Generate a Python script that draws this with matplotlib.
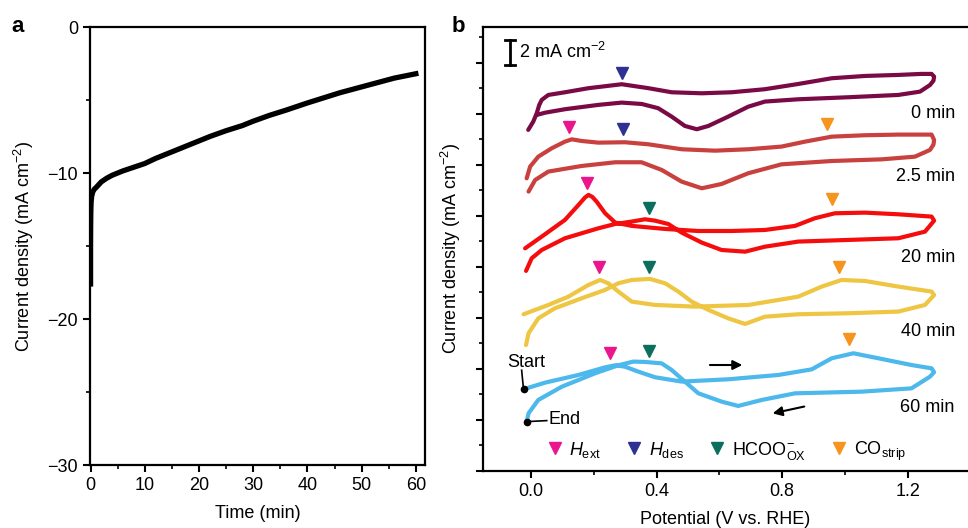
import matplotlib

matplotlib.use("Agg")
import matplotlib.pyplot as plt  # noqa: E402
from matplotlib.lines import Line2D  # noqa: E402
from matplotlib.ticker import MultipleLocator  # noqa: E402

plt.rcParams["font.family"] = ["Liberation Sans", "DejaVu Sans"]
plt.rcParams["mathtext.fontset"] = "custom"
plt.rcParams["mathtext.rm"] = "Liberation Sans"
plt.rcParams["mathtext.it"] = "Liberation Sans:italic"
plt.rcParams["font.size"] = 13

# ---- panel a: chronoamperometry ----
time_min = [0, 0.0, 0.02, 0.05, 0.1, 0.2, 0.4, 0.7, 1.0, 1.5, 2, 3, 4, 5, 6, 8, 10,
            12, 14, 16, 18, 20, 22, 25, 28, 30, 33, 36, 38, 40, 43, 46, 48, 50,
            52, 54, 56, 58, 60]
current_a = [-17.6, -15.0, -13.6, -12.6, -12.0, -11.6, -11.3, -11.1, -11.0, -10.8,
             -10.6, -10.35, -10.15, -10.0, -9.85, -9.6, -9.35, -9.0, -8.7, -8.4,
             -8.1, -7.8, -7.5, -7.1, -6.75, -6.45, -6.05, -5.7, -5.45, -5.2,
             -4.85, -4.5, -4.3, -4.1, -3.9, -3.7, -3.5, -3.35, -3.2]

# ---- panel b: CVs (current offset for display, mA cm-2) ----
cv_labels = ["0 min", "2.5 min", "20 min", "40 min", "60 min"]
cv_colors = ["#7a0a45", "#c8413f", "#f50d0d", "#eec643", "#4db8ec"]

cv0_v = [-0.009, 0.007, 0.018, 0.026, 0.034, 0.055, 0.108, 0.183, 0.289, 0.374,
         0.448, 0.544, 0.639, 0.745, 0.851, 0.958, 1.064, 1.170, 1.244, 1.276,
         1.284, 1.282, 1.271, 1.239, 1.170, 1.011, 0.851, 0.745, 0.692, 0.628,
         0.565, 0.528, 0.490, 0.448, 0.405, 0.353, 0.289, 0.214, 0.108, 0.045,
         0.018]
cv0_i = [26.75, 27.40, 28.05, 28.70, 29.10, 29.49, 29.70, 30.02, 30.33, 30.02,
         29.70, 29.62, 29.70, 29.94, 30.35, 30.80, 30.98, 31.06, 31.14, 31.14,
         30.93, 30.61, 30.27, 29.75, 29.49, 29.31, 29.15, 28.97, 28.57, 27.79,
         27.06, 26.80, 27.06, 27.79, 28.45, 28.78, 28.89, 28.71, 28.37, 28.10,
         27.92]

cv1_v = [-0.014, -0.003, 0.023, 0.066, 0.108, 0.130, 0.161, 0.214, 0.299, 0.374,
         0.480, 0.586, 0.692, 0.798, 0.873, 0.958, 1.064, 1.170, 1.276, 1.284,
         1.282, 1.271, 1.223, 1.117, 0.958, 0.798, 0.692, 0.607, 0.544, 0.480,
         0.416, 0.352, 0.268, 0.161, 0.055, 0.013, -0.008]
cv1_i = [22.95, 23.87, 24.65, 25.31, 25.83, 26.01, 25.88, 25.75, 25.78, 25.62,
         25.23, 25.12, 25.23, 25.44, 25.83, 26.22, 26.33, 26.38, 26.38, 25.96,
         25.60, 25.18, 24.65, 24.44, 24.31, 24.05, 23.35, 22.51, 22.17, 22.69,
         23.61, 24.21, 24.21, 23.92, 23.48, 22.82, 21.91]

cv2_v = [-0.019, 0.034, 0.108, 0.151, 0.172, 0.183, 0.195, 0.209, 0.236, 0.268,
         0.321, 0.427, 0.533, 0.639, 0.745, 0.841, 0.904, 0.968, 1.064, 1.170,
         1.276, 1.284, 1.255, 1.170, 1.011, 0.851, 0.745, 0.682, 0.607, 0.544,
         0.480, 0.437, 0.395, 0.363, 0.321, 0.268, 0.214, 0.108, 0.034, 0.002,
         -0.016]
cv2_i = [17.46, 18.38, 19.69, 20.86, 21.45, 21.65, 21.50, 21.12, 20.21, 19.48,
         19.22, 18.98, 18.82, 18.82, 18.90, 19.22, 19.82, 20.21, 20.26, 20.13,
         19.95, 19.63, 18.77, 18.25, 18.12, 17.99, 17.59, 17.20, 17.33, 17.91,
         18.69, 19.37, 19.63, 19.74, 19.56, 19.37, 19.03, 18.25, 17.33, 16.68,
         15.69]

cv3_v = [-0.024, 0.055, 0.119, 0.183, 0.220, 0.246, 0.278, 0.321, 0.395, 0.522,
         0.692, 0.851, 0.926, 0.989, 1.064, 1.170, 1.276, 1.284, 1.255, 1.170,
         1.011, 0.851, 0.745, 0.682, 0.628, 0.565, 0.512, 0.469, 0.427, 0.379,
         0.321, 0.278, 0.236, 0.161, 0.076, 0.023, -0.008, -0.016]
cv3_i = [12.29, 13.02, 13.67, 14.59, 14.98, 14.72, 14.07, 13.28, 13.02, 12.89,
         13.02, 13.67, 14.46, 14.98, 14.90, 14.46, 14.07, 13.80, 13.02, 12.50,
         12.37, 12.29, 12.10, 11.53, 11.97, 12.63, 13.28, 14.07, 14.72, 15.06,
         14.98, 14.72, 14.20, 13.54, 12.76, 11.97, 10.80, 9.88]

cv4_v = [-0.024, 0.045, 0.151, 0.236, 0.268, 0.299, 0.342, 0.395, 0.480, 0.628,
         0.788, 0.894, 0.958, 1.027, 1.106, 1.212, 1.276, 1.284, 1.271, 1.212,
         1.053, 0.841, 0.735, 0.660, 0.607, 0.533, 0.490, 0.448, 0.416, 0.363,
         0.326, 0.278, 0.204, 0.098, 0.023, -0.008, -0.014]
cv4_i = [6.41, 6.93, 7.53, 8.13, 8.29, 8.18, 7.79, 7.35, 7.01, 7.19,
         7.53, 7.97, 8.84, 9.23, 8.84, 8.31, 8.05, 7.75, 7.40, 6.48,
         6.22, 6.09, 5.57, 5.10, 5.44, 6.09, 7.01, 7.92, 8.44, 8.55,
         8.58, 8.29, 7.66, 6.61, 5.57, 4.52, 3.87]

cv_v = [cv0_v, cv1_v, cv2_v, cv3_v, cv4_v]
cv_i = [cv0_i, cv1_i, cv2_i, cv3_i, cv4_i]
label_i = [28.0, 23.06, 16.71, 10.90, 4.94]

# peak markers: (potential, display current)
marker_names = ["$H_{\\mathrm{ext}}$", "$H_{\\mathrm{des}}$",
                "HCOO$^{-}_{\\mathrm{OX}}$", "CO$_{\\mathrm{strip}}$"]
marker_colors = ["#ea168e", "#2e3192", "#0b6f5e", "#f7941d"]
hext_v = [0.121, 0.178, 0.217, 0.252]
hext_i = [26.98, 22.59, 16.00, 9.25]
hdes_v = [0.290, 0.293]
hdes_i = [31.22, 26.82]
hcoo_v = [0.376, 0.376, 0.376]
hcoo_i = [20.63, 16.00, 9.41]
co_v = [0.943, 0.959, 0.981, 1.013]
co_i = [27.22, 21.33, 16.00, 10.35]


def style_axes(ax):
    for s in ax.spines.values():
        s.set_linewidth(1.6)
    ax.tick_params(which="major", direction="out", length=5, width=1.5)
    ax.tick_params(which="minor", direction="out", length=3, width=1.2)


def main():
    fig = plt.figure(figsize=(9.68, 5.28), dpi=100)

    # panel a
    ax = fig.add_axes([0.0930, 0.1193, 0.3461, 0.8295])
    ax.plot(time_min, current_a, color="black", lw=3.8, solid_joinstyle="round")
    ax.set_xlim(-0.1, 61.7)
    ax.set_ylim(-30, 0)
    ax.xaxis.set_major_locator(MultipleLocator(10))
    ax.xaxis.set_minor_locator(MultipleLocator(5))
    ax.yaxis.set_major_locator(MultipleLocator(10))
    ax.yaxis.set_minor_locator(MultipleLocator(5))
    style_axes(ax)
    ax.set_xlabel("Time (min)", labelpad=8)
    ax.set_ylabel("Current density (mA cm$^{-2}$)", labelpad=8)
    fig.text(0.012, 0.940, "a", fontsize=16, fontweight="bold")

    # panel b
    bx = fig.add_axes([0.4990, 0.1080, 0.5010, 0.8409])
    for v, i, c in zip(cv_v, cv_i, cv_colors):
        bx.plot(v, i, color=c, lw=3.0, solid_joinstyle="round", solid_capstyle="round")
    for name, li in zip(cv_labels, label_i):
        bx.text(1.350, li, name, ha="right", va="center")

    groups = [(hext_v, hext_i), (hdes_v, hdes_i), (hcoo_v, hcoo_i), (co_v, co_i)]
    handles = []
    for (v, i), c, name in zip(groups, marker_colors, marker_names):
        bx.plot(v, i, ls="none", marker="v", color=c, markersize=9)
        handles.append(Line2D([], [], ls="none", marker="v", color=c,
                              markersize=9, label=name))
    bx.legend(handles=handles, ncol=4, loc="center left", frameon=False,
              bbox_to_anchor=(0.118, 0.045), handlelength=0.8,
              handletextpad=0.4, columnspacing=1.45, borderaxespad=0)

    # start / end
    start_v, start_i = -0.024, 6.41
    end_v, end_i = -0.014, 3.87
    bx.plot([start_v, end_v], [start_i, end_i], ls="none", marker="o",
            color="black", markersize=4.5)
    bx.plot([start_v, -0.030], [start_i, 7.9], color="black", lw=1.2)
    bx.text(-0.015, 8.5, "Start", ha="center", va="center")
    bx.plot([end_v, 0.050], [end_i, 3.95], color="black", lw=1.2)
    bx.text(0.054, 4.05, "End", ha="left", va="center")

    # scan direction arrows
    bx.annotate("", xy=(0.682, 8.31), xytext=(0.561, 8.31),
                arrowprops=dict(arrowstyle="-|>", color="black", lw=1.5,
                                mutation_scale=14))
    bx.annotate("", xy=(0.761, 4.47), xytext=(0.879, 5.10),
                arrowprops=dict(arrowstyle="-|>", color="black", lw=1.5,
                                mutation_scale=14))

    # scale bar: 2 mA cm-2
    bx.plot([-0.067, -0.067], [31.8, 33.8], color="black", lw=2.0)
    bx.plot([-0.082, -0.052], [31.8, 31.8], color="black", lw=2.0)
    bx.plot([-0.082, -0.052], [33.8, 33.8], color="black", lw=2.0)
    bx.text(-0.040, 32.86, "2 mA cm$^{-2}$", ha="left", va="center")

    bx.set_xlim(-0.153, 1.392)
    bx.set_ylim(0, 34.82)
    bx.xaxis.set_major_locator(MultipleLocator(0.4))
    bx.xaxis.set_minor_locator(MultipleLocator(0.2))
    bx.xaxis.set_major_formatter(plt.FormatStrFormatter("%.1f"))
    bx.yaxis.set_major_locator(MultipleLocator(4))
    bx.yaxis.set_minor_locator(MultipleLocator(2))
    bx.set_yticklabels([])
    bx.spines["right"].set_visible(False)
    style_axes(bx)
    bx.set_xlabel("Potential (V vs. RHE)", labelpad=8)
    bx.set_ylabel("Current density (mA cm$^{-2}$)", labelpad=6)
    fig.text(0.466, 0.940, "b", fontsize=16, fontweight="bold")

    fig.savefig("out.png", dpi=100)


if __name__ == "__main__":
    main()
